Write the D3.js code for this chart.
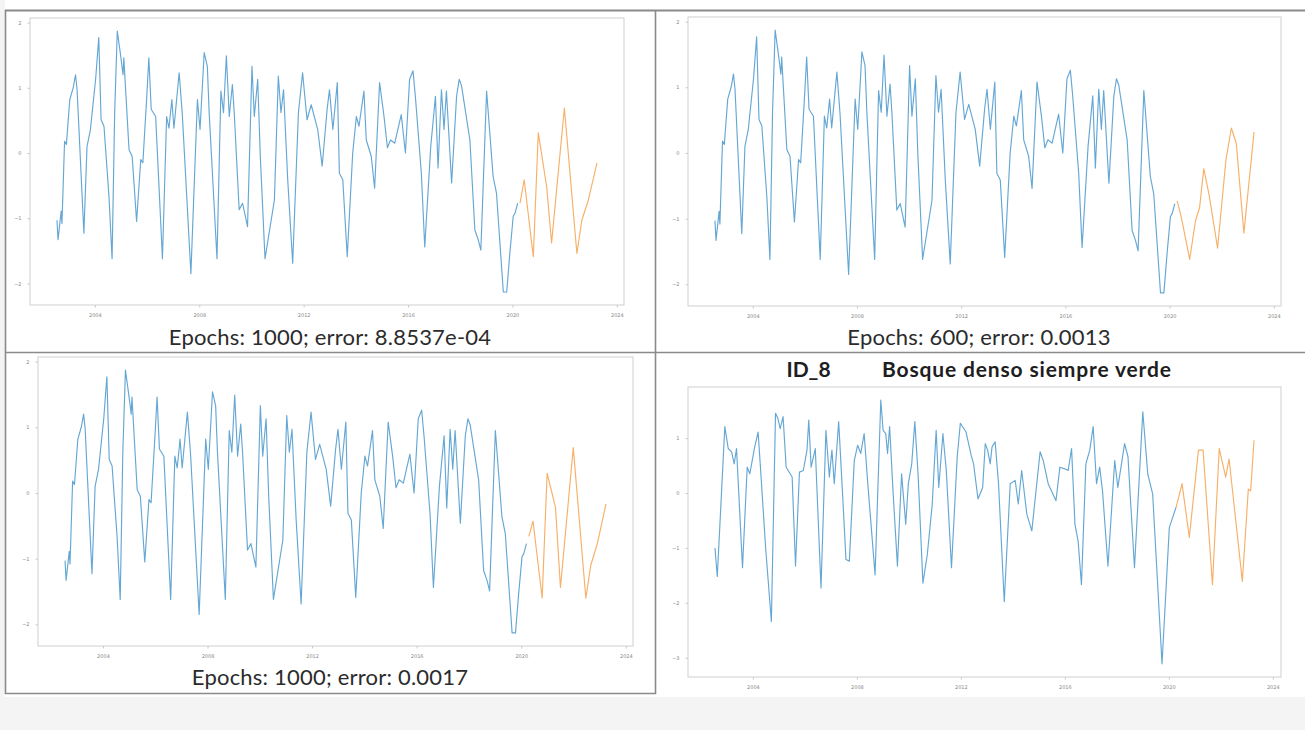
<!DOCTYPE html>
<html><head><meta charset="utf-8">
<script src="https://cdn.jsdelivr.net/npm/d3@7"></script>
<style>
body{margin:0;background:#f4f4f4;}
svg{display:block;}
</style></head><body>
<svg id="c" width="1305" height="730"></svg>
<script>
// ---- shared observed series (panels 1-3) ----
const obsDates = [2002.55,2002.59,2002.71,2002.74,2002.84,2002.91,2003.04,2003.17,2003.26,2003.32,2003.58,2003.70,2003.83,
2004.03,2004.15,2004.24,2004.35,2004.54,2004.66,2004.76,2004.86,2004.99,2005.08,2005.11,2005.31,2005.43,2005.60,2005.76,2005.84,
2005.99,2006.07,2006.16,2006.33,2006.59,2006.75,2006.84,2006.95,2007.03,2007.23,2007.35,2007.68,2007.93,2008.03,2008.19,2008.31,
2008.38,2008.68,2008.83,2008.93,2009.04,2009.15,2009.27,2009.34,2009.53,2009.66,2009.85,2010.02,2010.11,2010.24,2010.34,2010.52,
2010.88,2011.03,2011.13,2011.23,2011.39,2011.58,2011.80,2011.96,2012.13,2012.29,2012.54,2012.71,2012.90,2012.99,2013.12,2013.29,
2013.37,2013.50,2013.67,2013.88,2014.02,2014.12,2014.31,2014.40,2014.59,2014.72,2014.91,2015.08,2015.21,2015.33,2015.49,2015.74,
2015.90,2016.06,2016.19,2016.28,2016.51,2016.64,2016.87,2017.05,2017.15,2017.28,2017.38,2017.47,2017.67,2017.86,2017.96,2018.05,
2018.37,2018.56,2018.69,2018.79,2019.01,2019.26,2019.39,2019.65,2019.78,2019.90,2020.03,2020.10,2020.20];
const obsValues = [-1.03,-1.33,-0.89,-1.08,0.18,0.13,0.82,1.00,1.20,0.97,-1.23,0.10,0.36,
1.13,1.77,0.51,0.41,-0.66,-1.62,0.62,1.87,1.49,1.20,1.46,0.05,-0.05,-1.05,-0.10,-0.15,
0.87,1.46,0.67,0.56,-1.62,0.56,0.38,0.82,0.38,1.23,0.60,-1.85,0.82,0.36,1.54,1.33,
0.62,-1.62,0.95,0.62,1.49,0.56,1.05,0.62,-0.87,-0.77,-1.13,1.33,0.56,1.13,-0.05,-1.62,
-0.72,1.18,0.62,0.97,-0.41,-1.69,0.62,1.23,0.51,0.74,0.36,-0.20,0.67,0.97,0.36,1.08,
-0.31,-0.41,-1.59,0.00,0.56,0.41,0.95,0.20,-0.05,-0.54,1.08,0.56,0.08,0.20,0.15,0.59,
0.00,1.13,1.26,0.87,-0.31,-1.44,0.10,0.87,-0.23,0.97,0.36,0.95,-0.46,0.87,1.13,1.03,
0.20,-1.18,-1.33,-1.49,0.95,-0.36,-0.62,-2.13,-2.13,-1.54,-0.97,-0.92,-0.77];

// ---- predictions ----
const predDates = [2020.29,2020.45,2020.80,2020.99,2021.31,2021.50,2021.99,2022.47,2022.66,2022.91,2023.24];
const pred1000aValues = [-0.77,-0.41,-1.59,0.31,-0.51,-1.38,0.69,-1.54,-1.03,-0.72,-0.15];
const pred1000bValues = [-0.66,-0.43,-1.60,0.30,-0.22,-1.44,0.69,-1.60,-1.10,-0.77,-0.17];
const pred600Dates = [2020.29,2020.45,2020.77,2020.99,2021.15,2021.31,2021.52,2021.84,2022.16,2022.37,2022.56,2022.85,2023.24];
const pred600Values = [-0.73,-0.98,-1.62,-1.04,-0.83,-0.24,-0.65,-1.45,-0.11,0.38,0.14,-1.22,0.32];

// ---- ID_8 series ----
const id8Dates = [2002.54,2002.63,2002.92,2003.05,2003.18,2003.28,2003.37,2003.60,2003.78,2003.88,2004.07,2004.20,2004.29,2004.49,
2004.71,2004.87,2004.96,2005.05,2005.16,2005.28,2005.51,2005.64,2005.79,2005.94,2006.08,2006.15,2006.24,2006.40,2006.62,2006.81,
2006.94,2007.04,2007.13,2007.30,2007.45,2007.58,2007.71,2007.90,2008.03,2008.15,2008.28,2008.41,2008.70,2008.92,2009.01,2009.11,
2009.18,2009.26,2009.39,2009.56,2009.72,2009.88,2009.98,2010.11,2010.23,2010.36,2010.54,2010.71,2010.90,2011.05,2011.15,2011.31,
2011.44,2011.64,2011.86,2011.98,2012.20,2012.40,2012.49,2012.66,2012.84,2012.94,2013.03,2013.13,2013.20,2013.32,2013.45,2013.67,
2013.90,2014.09,2014.21,2014.34,2014.54,2014.73,2015.05,2015.17,2015.36,2015.66,2015.81,2016.00,2016.13,2016.26,2016.39,2016.51,
2016.64,2016.81,2016.96,2017.09,2017.22,2017.34,2017.45,2017.66,2017.92,2018.04,2018.30,2018.43,2018.68,2019.00,2019.19,2019.38,
2019.74,2020.02,2020.28];
const id8Values = [-1.00,-1.52,1.21,0.81,0.75,0.53,0.81,-1.36,0.47,0.35,0.84,1.11,0.47,-1.00,
-2.34,1.45,1.36,1.17,1.39,0.47,0.29,-1.33,0.38,0.41,0.78,1.33,0.47,0.81,-1.73,1.14,
0.29,0.78,0.17,1.30,-0.02,-1.21,-1.24,0.59,0.87,0.72,1.08,0.23,-1.49,1.69,1.14,1.08,
0.72,1.21,0.04,-1.33,0.35,-0.57,0.17,0.53,1.30,0.29,-1.64,-1.12,-0.20,1.14,0.10,1.08,
0.41,-1.36,0.66,1.27,1.11,0.68,0.53,-0.11,0.10,0.90,0.78,0.53,0.84,0.93,0.17,-1.98,
0.17,0.23,-0.20,0.41,-0.39,-0.69,0.75,0.59,0.17,-0.14,0.47,0.44,0.41,0.81,-0.57,-0.87,
-1.67,0.53,0.78,1.21,0.17,0.47,0.04,-1.33,0.59,0.10,0.90,0.66,-1.36,1.48,0.35,-0.02,
-3.11,-0.63,-0.26];
const id8PredDates = [2020.28,2020.51,2020.79,2021.14,2021.32,2021.68,2021.94,2022.19,2022.32,2022.83,2023.06,2023.15,2023.28];
const id8PredValues = [-0.26,0.17,-0.81,0.78,0.78,-1.67,0.81,0.29,0.62,-1.61,0.07,0.04,0.96];

// ---- ticks and texts ----
const xTickYears = [2004,2008,2012,2016,2020,2024];
const yTicksObs = [-2,-1,0,1,2];
const yTicksId8 = [-3,-2,-1,0,1];
const captions = ["Epochs: 1000; error: 8.8537e-04","Epochs: 600; error: 0.0013","Epochs: 1000; error: 0.0017"];
const titleId = "ID_8";
const titleName = "Bosque denso siempre verde";

const BLUE = "#4a98cc", ORANGE = "#f5a24e";
const svg = d3.select("#c");

// page background and frame lines
svg.append("rect").attr("x",5).attr("y",0).attr("width",1300).attr("height",697).attr("fill","#fff");
const sep = [[5,10.5,1305,10.5],[5.5,10,5.5,694],[655.5,10,655.5,694],[5,352.5,1305,352.5],[5,693.5,656,693.5]];
svg.selectAll("line.sep").data(sep).join("line").attr("class","sep")
  .attr("x1",d=>d[0]).attr("y1",d=>d[1]).attr("x2",d=>d[2]).attr("y2",d=>d[3])
  .attr("stroke","#8a8a8a").attr("stroke-width",(d,i)=>i===0?2.2:1.6);

const panels = [
  {box:[30,18,624,305], yTicks:yTicksObs, series:[[obsDates,obsValues,BLUE],[predDates,pred1000aValues,ORANGE]]},
  {box:[688,17,1281,306], yTicks:yTicksObs, series:[[obsDates,obsValues,BLUE],[pred600Dates,pred600Values,ORANGE]]},
  {box:[38,357,633,646], yTicks:yTicksObs, series:[[obsDates,obsValues,BLUE],[predDates,pred1000bValues,ORANGE]]},
  {box:[688,387,1281,677], yTicks:yTicksId8, series:[[id8Dates,id8Values,BLUE],[id8PredDates,id8PredValues,ORANGE]]}
];

function pad(ext){const r=ext[1]-ext[0];return [ext[0]-0.05*r, ext[1]+0.05*r];}

panels.forEach(p=>{
  const [x0,y0,x1,y1] = p.box;
  const allD = p.series.flatMap(s=>s[0]), allV = p.series.flatMap(s=>s[1]);
  const x = d3.scaleLinear().domain(pad(d3.extent(allD))).range([x0,x1]);
  const y = d3.scaleLinear().domain(pad(d3.extent(allV))).range([y1,y0]);
  const g = svg.append("g");
  const ax = g.append("g").attr("transform",`translate(0,${y1})`)
    .call(d3.axisBottom(x).tickValues(xTickYears).tickFormat(d3.format("d")).tickSize(2.5).tickSizeOuter(0));
  const ay = g.append("g").attr("transform",`translate(${x0},0)`)
    .call(d3.axisLeft(y).tickValues(p.yTicks).tickFormat(d3.format("d")).tickSize(2.5).tickSizeOuter(0));
  [ax,ay].forEach(a=>{
    a.select(".domain").remove();
    a.selectAll("line").attr("stroke","#b0b0b0").attr("stroke-width",0.7);
    a.selectAll("text").attr("fill","#888").style("font-size","5px").style("font-family","DejaVu Sans");
  });
  ax.selectAll("text").attr("dy","1.2em");
  ay.selectAll("text").attr("dx","-0.6em");
  g.append("rect").attr("x",x0).attr("y",y0).attr("width",x1-x0).attr("height",y1-y0)
    .attr("fill","none").attr("stroke","#cfcfcf").attr("stroke-width",1);
  p.series.forEach(s=>{
    const pts = s[0].map((d,i)=>[d,s[1][i]]);
    g.append("path").datum(pts)
      .attr("d", d3.line().x(d=>x(d[0])).y(d=>y(d[1])))
      .attr("fill","none").attr("stroke",s[2]).attr("stroke-width",1.15)
      .attr("stroke-opacity",0.85).attr("stroke-linejoin","round");
  });
});

// captions
const capPos = [[330,345],[979,345],[330,685]];
svg.selectAll("text.cap").data(captions).join("text").attr("class","cap")
  .attr("x",(d,i)=>capPos[i][0]).attr("y",(d,i)=>capPos[i][1])
  .attr("text-anchor","middle").attr("fill","#2b2b2b")
  .style("font-family","Lato").style("font-size","22px").style("letter-spacing","0.2px").text(d=>d);

// ID_8 title
svg.append("text").attr("x",808.5).attr("y",377).attr("text-anchor","middle")
  .style("font-family","Lato").style("font-weight","bold").style("font-size","21px")
  .attr("fill","#1e1e1e").text(titleId);
svg.append("text").attr("x",882).attr("y",377).attr("text-anchor","start")
  .style("font-family","Lato").style("font-weight","bold").style("font-size","21px")
  .style("letter-spacing","0.85px").attr("fill","#1e1e1e").text(titleName);
</script>
</body></html>
